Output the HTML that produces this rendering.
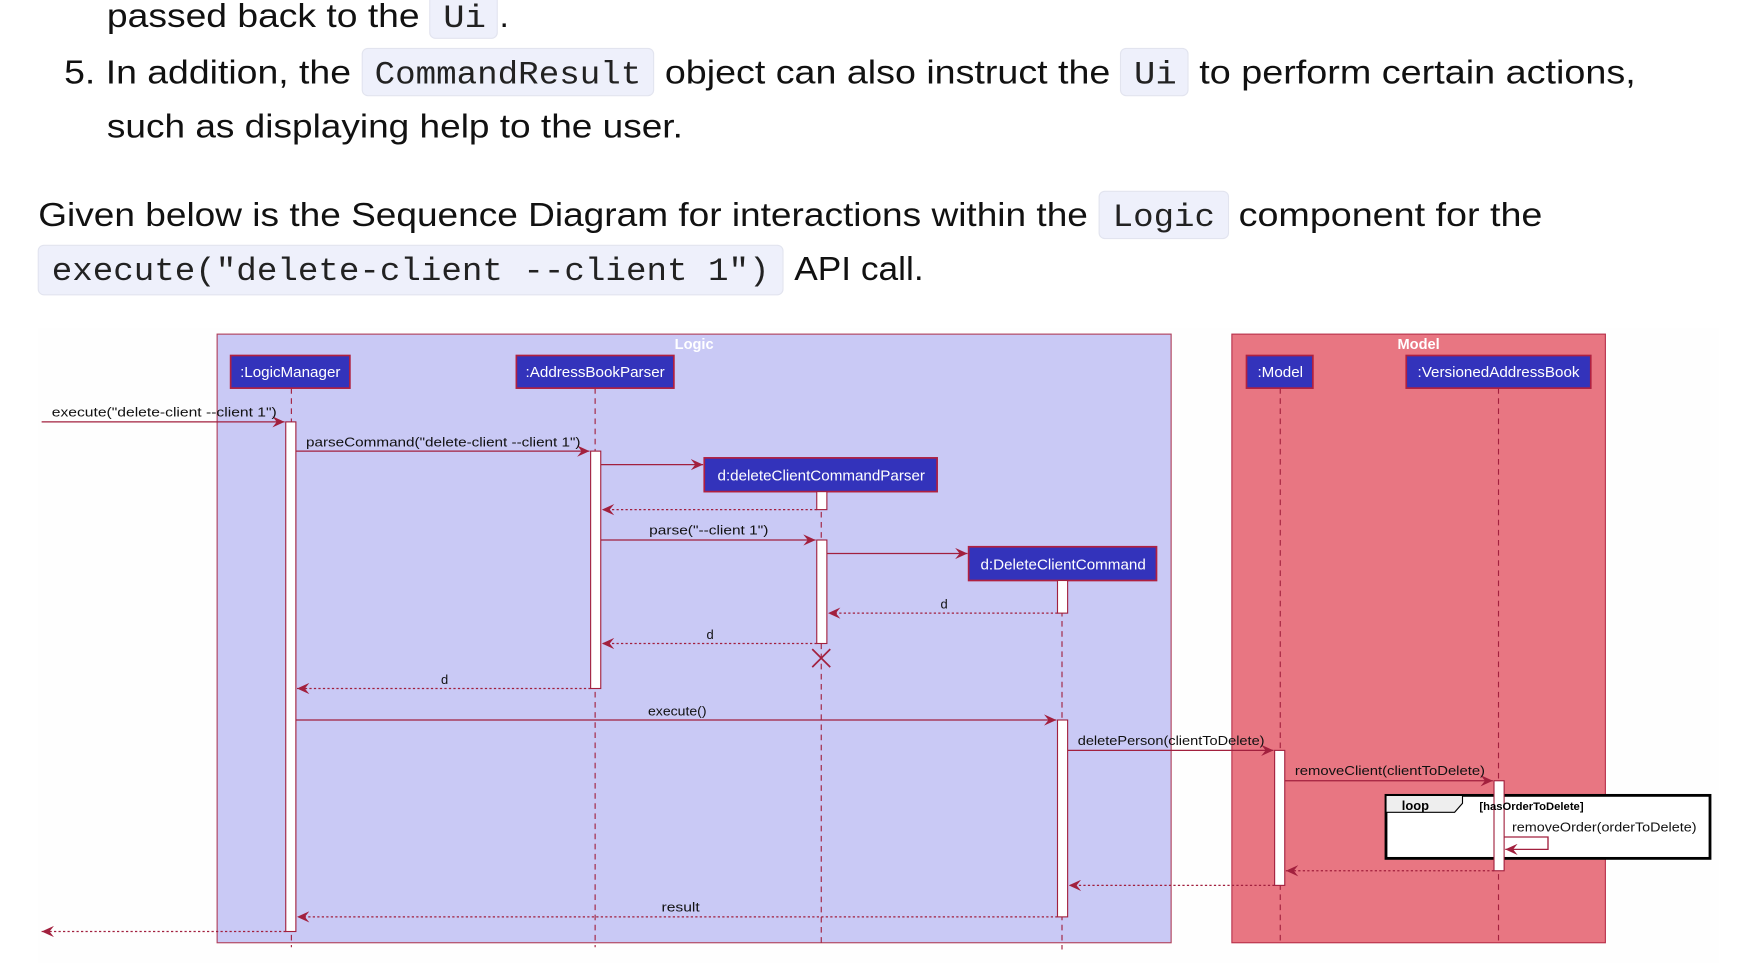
<!DOCTYPE html>
<html><head><meta charset="utf-8"><style>
html,body{margin:0;padding:0;background:#fff;width:1764px;height:972px;overflow:hidden}
svg{display:block}
.t{font-family:"Liberation Sans",sans-serif;font-size:30px;fill:#111}
.c{font-family:"Liberation Mono",monospace;font-size:29px;fill:#222}
.l{font-family:"Liberation Sans",sans-serif;font-size:11.5px;fill:#111}
.p{font-family:"Liberation Sans",sans-serif;font-size:13.5px;fill:#fff}
</style></head><body>
<svg width="1764" height="972" viewBox="0 0 1568 864" xmlns="http://www.w3.org/2000/svg">
<defs>
<marker id="a" markerWidth="12" markerHeight="10" refX="11" refY="5" orient="auto" markerUnits="userSpaceOnUse"><path d="M0,0 L11,5 L0,10 L4,5 Z" fill="#a2203e"/></marker>
</defs>
<rect width="1568" height="864" fill="#fff"/>
<g fill="#eef0fb" stroke="#e2e4ef" stroke-width="1">
<rect x="382" y="-8" width="60" height="42" rx="5"/>
<rect x="322" y="43" width="259" height="42" rx="5"/>
<rect x="996" y="43" width="60" height="42" rx="5"/>
<rect x="977" y="170" width="115" height="42" rx="5"/>
<rect x="34" y="218" width="662" height="44" rx="5"/>
</g>
<text class="t" x="95" y="24" textLength="278" lengthAdjust="spacingAndGlyphs">passed back to the</text>
<text class="c" x="394" y="24" textLength="38" lengthAdjust="spacingAndGlyphs">Ui</text>
<text class="t" x="444" y="24">.</text>
<text class="t" x="57" y="74" textLength="255" lengthAdjust="spacingAndGlyphs">5. In addition, the</text>
<text class="c" x="333" y="74" textLength="237" lengthAdjust="spacingAndGlyphs">CommandResult</text>
<text class="t" x="591" y="74" textLength="396" lengthAdjust="spacingAndGlyphs">object can also instruct the</text>
<text class="c" x="1008" y="74" textLength="38" lengthAdjust="spacingAndGlyphs">Ui</text>
<text class="t" x="1066" y="74" textLength="388" lengthAdjust="spacingAndGlyphs">to perform certain actions,</text>
<text class="t" x="95" y="122" textLength="512" lengthAdjust="spacingAndGlyphs">such as displaying help to the user.</text>
<text class="t" x="34" y="201" textLength="933" lengthAdjust="spacingAndGlyphs">Given below is the Sequence Diagram for interactions within the</text>
<text class="c" x="989" y="201" textLength="91" lengthAdjust="spacingAndGlyphs">Logic</text>
<text class="t" x="1101" y="201" textLength="270" lengthAdjust="spacingAndGlyphs">component for the</text>
<text class="c" x="46" y="249" textLength="638" lengthAdjust="spacingAndGlyphs">execute("delete-client --client 1")</text>
<text class="t" x="706" y="249" textLength="115" lengthAdjust="spacingAndGlyphs">API call.</text>
<rect x="34" y="292" width="1494" height="564" fill="#fefefe"/>
<rect x="193" y="297" width="848" height="541" fill="#c9c9f5" stroke="#b0405a" stroke-width="1"/>
<rect x="1095" y="297" width="332" height="541" fill="#e87682" stroke="#b8304a" stroke-width="1"/>
<text x="617" y="310" font-family="Liberation Sans,sans-serif" font-size="13" font-weight="bold" fill="#fff" text-anchor="middle">Logic</text>
<text x="1261" y="310" font-family="Liberation Sans,sans-serif" font-size="13" font-weight="bold" fill="#fff" text-anchor="middle">Model</text>
<g stroke="#a2203e" stroke-width="1" stroke-dasharray="5,4">
<line x1="259" y1="345" x2="259" y2="842"/>
<line x1="529" y1="345" x2="529" y2="842"/>
<line x1="730" y1="437" x2="730" y2="842"/>
<line x1="944" y1="516" x2="944" y2="844"/>
<line x1="1138" y1="345" x2="1138" y2="840"/>
<line x1="1332" y1="345" x2="1332" y2="840"/>
</g>
<g fill="#3333bb" stroke="#b02040" stroke-width="1.5">
<rect x="205" y="316" width="106" height="29"/>
<rect x="459" y="316" width="140" height="29"/>
<rect x="626" y="407" width="207" height="30"/>
<rect x="861" y="486" width="167" height="30"/>
<rect x="1108" y="316" width="59" height="29"/>
<rect x="1250" y="316" width="164" height="29"/>
</g>
<text class="p" x="258" y="335" text-anchor="middle">:LogicManager</text>
<text class="p" x="529" y="335" text-anchor="middle">:AddressBookParser</text>
<text class="p" x="730" y="427" text-anchor="middle">d:deleteClientCommandParser</text>
<text class="p" x="945" y="506" text-anchor="middle">d:DeleteClientCommand</text>
<text class="p" x="1138" y="335" text-anchor="middle">:Model</text>
<text class="p" x="1332" y="335" text-anchor="middle">:VersionedAddressBook</text>
<rect x="1232" y="707" width="288" height="56" fill="#fff" stroke="#000" stroke-width="2.5"/>
<path d="M1232,707 L1300,707 L1300,714 L1293,722 L1232,722 Z" fill="#eee" stroke="#000" stroke-width="1"/>
<text x="1246" y="720" font-family="Liberation Sans,sans-serif" font-size="11.5" font-weight="bold">loop</text>
<line x1="1332" y1="707" x2="1332" y2="763" stroke="#a2203e" stroke-dasharray="5,4"/>
<g fill="#fff" stroke="#a2203e" stroke-width="1">
<rect x="254" y="375" width="9" height="453"/>
<rect x="525" y="401" width="9" height="211"/>
<rect x="726" y="437" width="9" height="16"/>
<rect x="726" y="480" width="9" height="92"/>
<rect x="940" y="516" width="9" height="29"/>
<rect x="940" y="640" width="9" height="175"/>
<rect x="1133" y="667" width="9" height="120"/>
<rect x="1328" y="694" width="9" height="80"/>
</g>
<text x="1315" y="720" font-family="Liberation Sans,sans-serif" font-size="10" font-weight="bold">[hasOrderToDelete]</text>
<g stroke="#a2203e" stroke-width="1.2" fill="none" marker-end="url(#a)">
<line x1="37" y1="375" x2="253" y2="375"/>
<line x1="263" y1="401" x2="524" y2="401"/>
<line x1="534" y1="413" x2="625" y2="413"/>
<line x1="534" y1="480" x2="725" y2="480"/>
<line x1="735" y1="492" x2="860" y2="492"/>
<line x1="263" y1="640" x2="939" y2="640"/>
<line x1="949" y1="667" x2="1132" y2="667"/>
<line x1="1142" y1="694" x2="1327" y2="694"/>
<polyline points="1337,744 1376,744 1376,755 1338,755"/>
</g>
<g stroke="#a2203e" stroke-width="1.2" fill="none" stroke-dasharray="2,2" marker-end="url(#a)">
<line x1="726" y1="453" x2="535" y2="453"/>
<line x1="940" y1="545" x2="736" y2="545"/>
<line x1="726" y1="572" x2="535" y2="572"/>
<line x1="525" y1="612" x2="264" y2="612"/>
<line x1="1328" y1="774" x2="1143" y2="774"/>
<line x1="1133" y1="787" x2="950" y2="787"/>
<line x1="940" y1="815" x2="264" y2="815"/>
<line x1="254" y1="828" x2="37" y2="828"/>
</g>
<path d="M722,577 L738,593 M738,577 L722,593" stroke="#a2203e" stroke-width="1.5"/>
<text class="l" x="46" y="370" textLength="200" lengthAdjust="spacingAndGlyphs">execute("delete-client --client 1")</text>
<text class="l" x="272" y="397" textLength="244" lengthAdjust="spacingAndGlyphs">parseCommand("delete-client --client 1")</text>
<text class="l" x="577" y="475" textLength="106" lengthAdjust="spacingAndGlyphs">parse("--client 1")</text>
<text class="l" x="836" y="541">d</text>
<text class="l" x="628" y="568">d</text>
<text class="l" x="392" y="608">d</text>
<text class="l" x="576" y="636" textLength="52" lengthAdjust="spacingAndGlyphs">execute()</text>
<text class="l" x="958" y="662" textLength="166" lengthAdjust="spacingAndGlyphs">deletePerson(clientToDelete)</text>
<text class="l" x="1151" y="689" textLength="169" lengthAdjust="spacingAndGlyphs">removeClient(clientToDelete)</text>
<text class="l" x="1344" y="739" textLength="164" lengthAdjust="spacingAndGlyphs">removeOrder(orderToDelete)</text>
<text class="l" x="588" y="810" textLength="34" lengthAdjust="spacingAndGlyphs">result</text>
</svg>
</body></html>
